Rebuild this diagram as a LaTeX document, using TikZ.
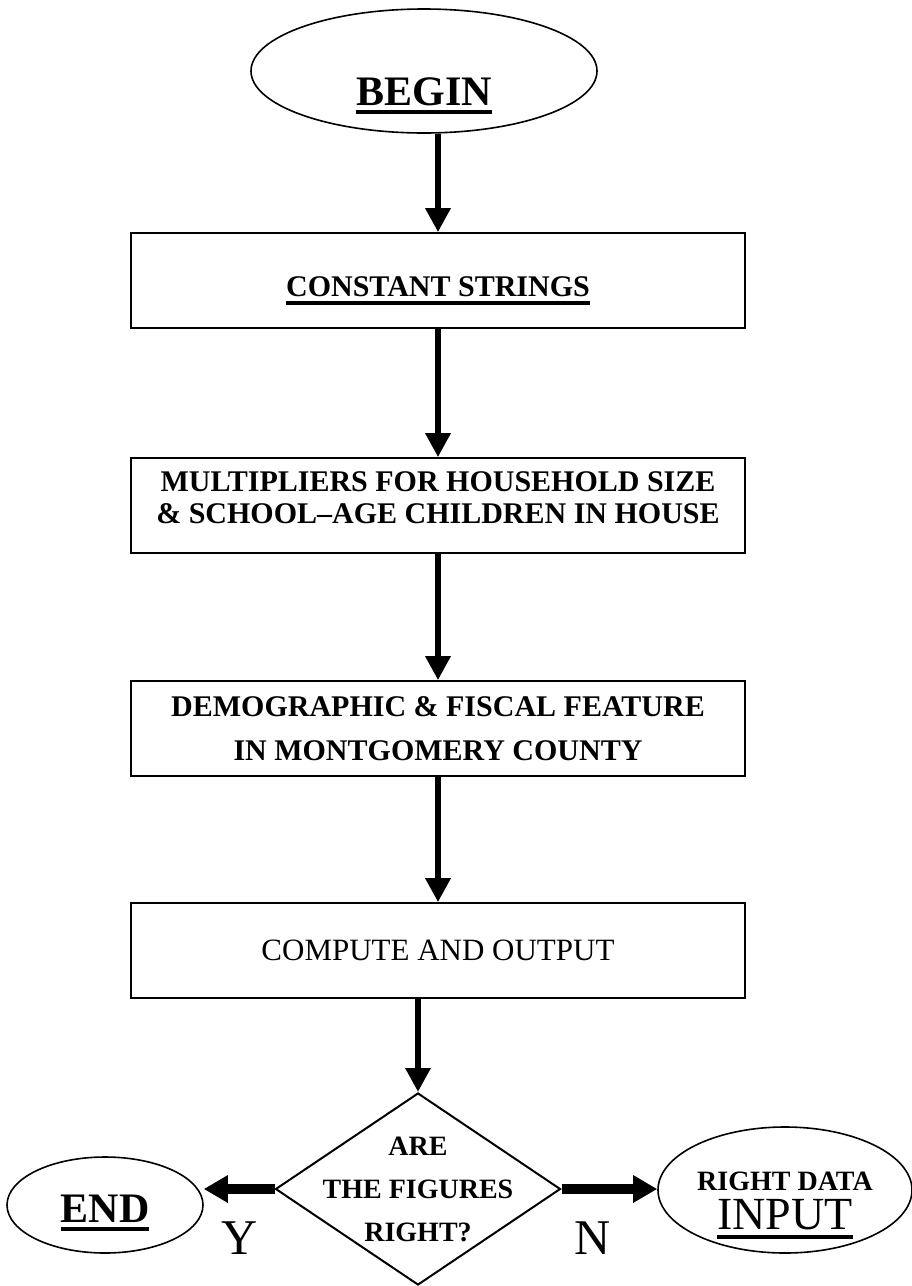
\documentclass[tikz,border=0pt]{standalone}
\usepackage{fontspec}
\setmainfont{Liberation Serif}
\usepackage{tikz}
\usetikzlibrary{shapes.geometric, arrows.meta, positioning}
\newcommand\ulthick[1]{\vtop{\hbox{#1}\kern5pt\hrule height 4pt}}

\begin{document}
\begin{tikzpicture}[x=1pt, y=-1pt,
        flowbox/.style={draw, line width=1.6pt, minimum width=614pt, minimum height=95pt, align=center, font=\bfseries\fontsize{30}{32}\selectfont},
        terminal/.style={draw, ellipse, line width=1.6pt, inner sep=0pt},
        decision/.style={draw, diamond, line width=2pt, minimum width=285pt, minimum height=192pt, inner sep=0pt, font=\bfseries\fontsize{28}{43}\selectfont},
        flow/.style={line width=6pt, -{Triangle[length=24pt, width=24pt]}},
        branch/.style={line width=10pt, -{Triangle[length=24pt, width=26pt]}},
        answer/.style={font=\fontsize{50}{50}\selectfont}]
        \useasboundingbox (0,0) rectangle (912,1286);
        % Nodes
        \node[terminal, minimum width=346pt, minimum height=124pt, text height=68pt, text depth=0pt, font=\bfseries\fontsize{42}{44}\selectfont] (begin) at (424,71) {\ulthick{BEGIN}};
        \node[flowbox, text height=31pt, text depth=0pt] (consts) at (438,280.5) {\ulthick{CONSTANT STRINGS}};
        \node[flowbox] (mult) at (438,505.5) {MULTIPLIERS FOR HOUSEHOLD SIZE\\\& SCHOOL--AGE CHILDREN IN HOUSE\rule[-16pt]{0pt}{16pt}};
        \node[flowbox, font=\bfseries\fontsize{30}{44}\selectfont] (demo) at (438,728.5) {DEMOGRAPHIC \& FISCAL FEATURE\\IN MONTGOMERY COUNTY};
        \node[flowbox, font=\fontsize{31}{32}\selectfont] (comp) at (438,950.5) {COMPUTE AND OUTPUT};
        \node[decision] (check) at (418,1189) {\makebox[0pt]{\smash{\raisebox{-7pt}{\begin{tabular}{@{}c@{}}ARE\\THE FIGURES\\RIGHT?\end{tabular}}}}};
        \node[terminal, minimum width=196pt, minimum height=96pt, text height=34pt, text depth=0pt, font=\bfseries\fontsize{42}{44}\selectfont] (end) at (105,1205) {\ulthick{END}};
        \node[terminal, minimum width=254pt, minimum height=126pt, text height=30pt, text depth=30pt, font=\bfseries\fontsize{28}{30}\selectfont] (input) at (785,1190) {\begin{tabular}[t]{@{}c@{}}RIGHT DATA\\{\mdseries\fontsize{46}{46}\selectfont\ulthick{INPUT}}\end{tabular}};

        % Arrows
        \draw[flow] (begin.south -| consts.north) -- (consts.north);
        \draw[flow] (consts) -- (mult);
        \draw[flow] (mult) -- (demo);
        \draw[flow] (demo) -- (comp);
        \draw[flow] (comp.south -| check.north) -- (check.north);
        \draw[branch] (check.west) -- node[answer, below=24pt] (yes) {Y} (check.west -| end.east);
        \draw[branch] (check.east) -- node[answer, pos=0.32, below=24pt] (no) {N} (check.east -| input.west);
    \end{tikzpicture}
\end{document}
